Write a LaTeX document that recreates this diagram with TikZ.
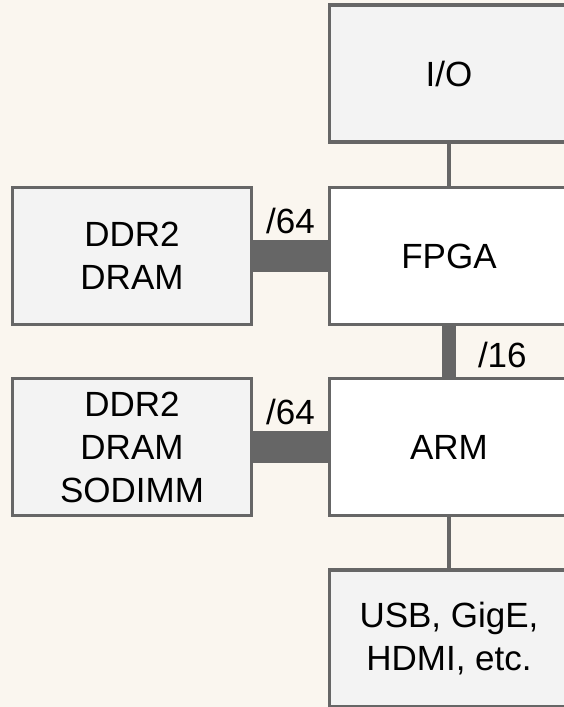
\documentclass[tikz,border=0pt]{standalone}
\usepackage{fontspec}
\setmainfont{Liberation Sans}
\usetikzlibrary{positioning}
\definecolor{cbg}{HTML}{FAF6EF}
\definecolor{cline}{HTML}{666666}
\definecolor{cfill}{HTML}{F3F3F3}
\tikzset{
  every picture/.style={font=\fontsize{35}{43}\selectfont, line width=3.5pt},
  box/.style={draw=cline, fill=#1, align=center, minimum width=239pt, minimum height=137pt, inner sep=0pt},
  box/.default=cfill,
  link/.style={draw=cline, line width=3.5pt},
  bus/.style={draw=cline, line width=#1},
  lbl/.style={inner sep=0pt},
}

\begin{document}
\begin{tikzpicture}[x=1pt, y=-1pt]
  \fill[cbg] (0,0) rectangle (564,707);
  \useasboundingbox (0,0) rectangle (564,707);
  \node[box=white] (fpga) at (449,256) {FPGA};
  \node[box, above=42pt of fpga] (io) {I/O};
  \node[box, left=74.5pt of fpga] (dram) {DDR2\\DRAM};
  \node[box=white, below=50.5pt of fpga] (arm) {ARM};
  \node[box, left=74.5pt of arm] (sodimm) {DDR2\\DRAM\\SODIMM};
  \node[box, below=51pt of arm] (periph) {USB, GigE,\\HDMI, etc.};
  \draw[link] (io) -- (fpga);
  \draw[link] (arm) -- (periph);
  % wide buses
  \draw[bus=32pt] (dram) -- (fpga) node[lbl, midway, anchor=base, yshift=23pt] (w64a) {/64};
  \draw[bus=32pt] (sodimm) -- (arm) node[lbl, midway, anchor=base, yshift=23pt] (w64b) {/64};
  \draw[bus=14pt] (fpga) -- (arm) node[lbl, midway, anchor=base west, xshift=22pt, yshift=-15.5pt] (w16) {/16};
\end{tikzpicture}
\end{document}
